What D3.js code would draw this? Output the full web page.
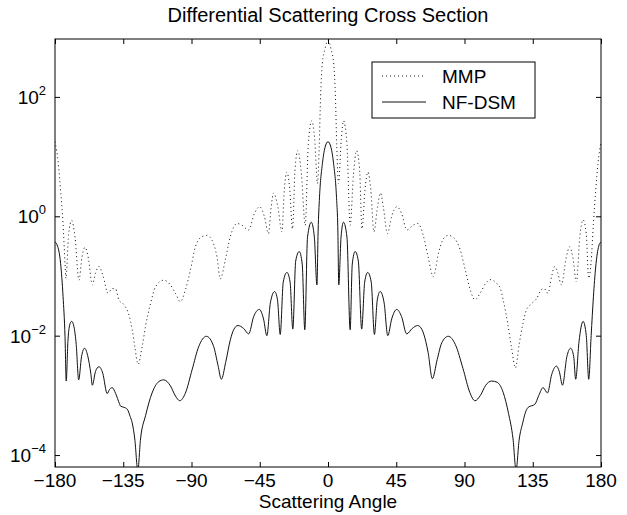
<!DOCTYPE html>
<html>
<head>
<meta charset="utf-8">
<script src="https://cdn.jsdelivr.net/npm/d3@7"></script>
<style>
  body { margin: 0; background: #fff; }
  text { font-family: "Liberation Sans", Arial, Helvetica, sans-serif; fill: #000; }
</style>
</head>
<body>
<svg id="chart" width="627" height="515"></svg>
<script>
// tick labels
const xTicks = [-180, -135, -90, -45, 0, 45, 90, 135, 180]
const yTickExp = [2, 0, -2, -4]
const seriesNames = ["MMP", "NF-DSM"]

// MMP (dotted): angle in degrees, value read as log10 off the axis
const mmpAngle = [
  -180, -177.8, -176.3, -174.7, -173.4, -172.8, -171, -169, -166.8, -164.2,
  -162.3, -160.3, -158, -155.4, -153.3, -151, -148.3, -145, -142.3, -140,
  -137.9, -134.6, -131.3, -129.1, -127.4, -125.2, -122.5, -120.3, -117, -113.7,
  -108.3, -103.9, -100.6, -97.3, -94, -90.7, -87.4, -83, -79.8, -76.5,
  -73.2, -71, -67.7, -64.4, -60, -56.7, -52.3, -48.5, -45, -42,
  -39.2, -37.5, -35.9, -33, -30.4, -28.8, -27.1, -25.2, -23.4, -21.7,
  -19.9, -17.5, -15, -13, -10.7, -8.8, -6.9, -5.8, -4.9, -3.8,
  -2, 0, 2, 3.8, 4.9, 5.8, 6.9, 8.8, 10.2, 12.5,
  14.6, 16.8, 18.8, 20.8, 22.4, 24.4, 26.3, 28.2, 30.3, 32.6,
  34.6, 36.5, 39.2, 42, 45.3, 48.5, 52, 56, 59.3, 63,
  66, 69.4, 73, 76, 79.3, 83, 87, 91, 94, 96.9,
  100.5, 104, 107.4, 111, 113.5, 115.5, 118.5, 121, 123.6, 126,
  128.5, 130.8, 134, 137.5, 140.7, 142.5, 145, 147.5, 149.5, 151.5,
  153.9, 157, 159.4, 161.5, 163.8, 166, 168.2, 170.3, 171.9, 173.4,
  175, 176.5, 178, 180
]
const mmpLog = [
  1.25, 0.88, 0.43, -0.12, -0.79, -1.04, -0.3, -0.07, -0.35, -1.07,
  -0.7, -0.52, -0.7, -1.15, -0.95, -0.84, -1.0, -1.29, -1.21, -1.22,
  -1.4, -1.48, -1.65, -1.9, -2.18, -2.48, -2.18, -1.84, -1.46, -1.18,
  -1.07, -1.15, -1.29, -1.43, -1.23, -0.9, -0.51, -0.34, -0.32, -0.4,
  -0.68, -1.05, -0.73, -0.34, -0.12, -0.15, -0.23, 0.05, 0.16, 0.0,
  -0.29, 0.15, 0.39, 0.15, -0.26, 0.45, 0.74, 0.45, -0.21, 0.8,
  1.1, 0.7, -0.15, 1.2, 1.6, 1.3, 0.55, 1.16, 2.0, 2.55,
  2.8, 2.95, 2.8, 2.55, 2.0, 1.16, 0.55, 1.3, 1.6, 1.2,
  -0.15, 0.7, 1.1, 0.8, -0.21, 0.45, 0.74, 0.45, -0.26, 0.15,
  0.39, 0.15, -0.29, 0.0, 0.16, 0.05, -0.23, -0.15, -0.12, -0.34,
  -0.68, -1.01, -0.6, -0.38, -0.32, -0.36, -0.55, -0.95, -1.25, -1.4,
  -1.28, -1.12, -1.06, -1.12, -1.2, -1.4, -1.8, -2.2, -2.54, -2.15,
  -1.8, -1.57, -1.47, -1.38, -1.23, -1.21, -1.29, -1.0, -0.84, -0.95,
  -1.15, -0.7, -0.51, -0.7, -1.1, -0.35, -0.06, -0.3, -1.04, -0.79,
  -0.12, 0.43, 0.88, 1.25
]

// NF-DSM (solid)
const nfAngle = [
  -180, -178.6, -176.3, -174.7, -173.4, -172.6, -171.5, -170.3, -169, -167.5,
  -166, -164.4, -162.5, -160.5, -158.5, -156.3, -155.4, -153.3, -151, -148.5,
  -145.6, -144, -142.3, -140, -137.5, -136.8, -134.5, -132.4, -130.5, -129.1,
  -127.4, -125.4, -123.6, -120.3, -116, -111.6, -108.3, -103.9, -100.6, -97.7,
  -94, -89.6, -85.2, -80.2, -75.4, -72.5, -70.3, -67.5, -64.4, -62.2,
  -59.4, -55.6, -52.3, -49, -45.3, -42.5, -40.3, -38, -35.2, -33.3,
  -31.5, -29.5, -27.1, -25, -23.2, -21.3, -19, -17, -15.3, -13.5,
  -11, -9, -7.3, -6.5, -5.6, -3.7, -2, 0, 2, 3.7,
  5.6, 6.5, 7.1, 8.6, 10.2, 12.5, 14.6, 16, 17.9, 20,
  22.2, 24.2, 26.2, 28.5, 30.6, 32.5, 34.4, 37, 39.4, 42,
  45.3, 48.5, 51.9, 55.5, 59.1, 62, 64.5, 66, 68.8, 72,
  75, 79.3, 84, 89, 93.5, 96.9, 100.5, 104, 107.8, 111.5,
  115.5, 119, 122, 124, 126, 128.5, 130, 132, 136.4, 139,
  141.8, 144.7, 147.5, 150.6, 152.5, 154.6, 157.5, 160, 162, 163.3,
  165.5, 168.2, 170.3, 171.9, 173.5, 175, 176.5, 178.5, 180
]
const nfLog = [
  -0.43, -0.48, -0.79, -1.34, -2.01, -2.76, -2.1, -1.82, -1.76, -1.85,
  -2.15, -2.74, -2.35, -2.21, -2.33, -2.65, -2.83, -2.6, -2.52, -2.63,
  -2.97, -2.9, -2.87, -2.97, -3.14, -3.18, -3.2, -3.23, -3.35, -3.46,
  -3.73, -4.25, -3.73, -3.34, -2.96, -2.77, -2.74, -2.84, -3.01, -3.09,
  -2.96, -2.57, -2.18, -2.01, -2.18, -2.5, -2.73, -2.45, -2.07, -1.9,
  -1.83, -1.88, -1.97, -1.68, -1.56, -1.72, -2.0, -1.45, -1.26, -1.4,
  -1.98, -1.1, -0.94, -1.1, -1.89, -0.75, -0.59, -0.8, -1.9, -0.35,
  -0.1, -0.35, -1.15, -0.23, 0.32, 0.88, 1.15, 1.25, 1.15, 0.88,
  0.32, -0.23, -1.15, -0.35, -0.1, -0.35, -1.9, -0.8, -0.59, -0.75,
  -1.89, -1.1, -0.94, -1.1, -1.98, -1.4, -1.26, -1.45, -2.0, -1.72,
  -1.56, -1.68, -1.97, -1.88, -1.83, -1.9, -2.1, -2.28, -2.72, -2.4,
  -2.12, -2.01, -2.15, -2.55, -2.95, -3.09, -3.0, -2.83, -2.76, -2.78,
  -2.95, -3.3, -3.73, -4.25, -3.75, -3.45, -3.3, -3.2, -3.15, -3.0,
  -2.87, -2.96, -2.65, -2.51, -2.6, -2.83, -2.35, -2.21, -2.35, -2.73,
  -2.1, -1.76, -2.0, -2.73, -2.0, -1.35, -0.85, -0.5, -0.43
]

const svg = d3.select("#chart")
const padL = 55, padR = 601, padT = 39, padB = 467

const x = d3.scaleLinear().domain([-180, 180]).range([padL, padR])
const y = d3.scaleLog().domain([Math.pow(10, -4.2), Math.pow(10, 2.97)]).range([padB, padT])

const mmp = mmpAngle.map((a, i) => [a, Math.pow(10, mmpLog[i])])
const nf = nfAngle.map((a, i) => [a, Math.pow(10, nfLog[i])])

svg.append("rect").attr("width", 627).attr("height", 515).attr("fill", "#fff")

svg.append("clipPath").attr("id", "plotclip")
  .append("rect").attr("x", padL).attr("y", padT).attr("width", padR - padL).attr("height", padB - padT)

const line = d3.line()
  .x(d => x(d[0]))
  .y(d => y(d[1]))
  .curve(d3.curveMonotoneX)

const plot = svg.append("g").attr("clip-path", "url(#plotclip)")
plot.append("path").datum(mmp)
  .attr("d", line)
  .attr("fill", "none")
  .attr("stroke", "#111")
  .attr("stroke-width", 1)
  .attr("stroke-dasharray", "1 3")
plot.append("path").datum(nf)
  .attr("d", line)
  .attr("fill", "none")
  .attr("stroke", "#111")
  .attr("stroke-width", 1)

// axes, ticks pointing inward on all four sides
const yTicks = yTickExp.map(e => Math.pow(10, e))
svg.append("g").attr("transform", `translate(0,${padB})`)
  .call(d3.axisBottom(x).tickValues(xTicks).tickSize(-5).tickFormat(""))
svg.append("g").attr("transform", `translate(0,${padT})`)
  .call(d3.axisTop(x).tickValues(xTicks).tickSize(-5).tickFormat(""))
svg.append("g").attr("transform", `translate(${padL},0)`)
  .call(d3.axisLeft(y).tickValues(yTicks).tickSize(-5).tickFormat(""))
svg.append("g").attr("transform", `translate(${padR},0)`)
  .call(d3.axisRight(y).tickValues(yTicks).tickSize(-5).tickFormat(""))
svg.selectAll(".domain").remove()
svg.selectAll(".tick line").attr("stroke", "#000")

svg.append("rect")
  .attr("x", padL).attr("y", padT)
  .attr("width", padR - padL).attr("height", padB - padT)
  .attr("fill", "none").attr("stroke", "#000").attr("stroke-width", 1)

// x tick labels
svg.append("g").selectAll("text").data(xTicks).join("text")
  .attr("x", d => x(d))
  .attr("y", padB + 20)
  .attr("text-anchor", "middle")
  .style("font-size", "19px")
  .text(d => d3.format("d")(d).replace("-", "\u2212"))

// y tick labels 10^n
const yl = svg.append("g").selectAll("text").data(yTickExp).join("text")
  .attr("x", padL - 9)
  .attr("y", d => y(Math.pow(10, d)) + 7)
  .attr("text-anchor", "end")
  .style("font-size", "19px")
yl.append("tspan").text("10")
yl.append("tspan")
  .attr("dy", -9)
  .style("font-size", "13px")
  .text(d => String(d).replace("-", "\u2212"))

// title and axis label
svg.append("text")
  .attr("x", (padL + padR) / 2).attr("y", 22)
  .attr("text-anchor", "middle")
  .style("font-size", "20px")
  .text("Differential Scattering Cross Section")
svg.append("text")
  .attr("x", (padL + padR) / 2).attr("y", padB + 41)
  .attr("text-anchor", "middle")
  .style("font-size", "19px")
  .text("Scattering Angle")

// legend
const lg = svg.append("g").attr("transform", "translate(372,62)")
lg.append("rect").attr("width", 163).attr("height", 56)
  .attr("fill", "#fff").attr("stroke", "#000").attr("stroke-width", 1)
const rows = lg.selectAll("g.row").data(seriesNames).join("g")
  .attr("class", "row")
  .attr("transform", (d, i) => `translate(0,${14 + i * 26})`)
rows.append("line")
  .attr("x1", 10).attr("x2", 54)
  .attr("stroke", "#111").attr("stroke-width", 1)
  .attr("stroke-dasharray", (d, i) => i === 0 ? "1 3" : null)
rows.append("text")
  .attr("x", 70).attr("y", 7)
  .style("font-size", "19px")
  .text(d => d)
</script>
</body>
</html>
